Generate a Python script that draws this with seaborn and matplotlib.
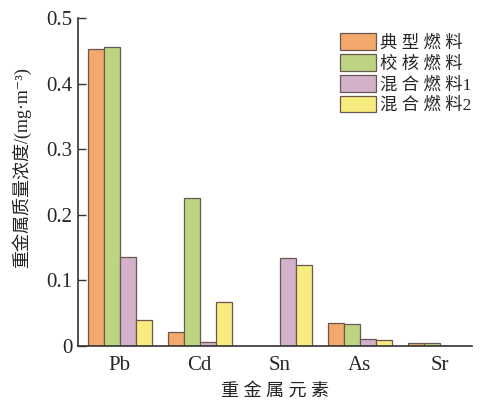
import numpy as np
import pandas as pd
import matplotlib
matplotlib.use("Agg")
import matplotlib.pyplot as plt
import seaborn as sns

elements = ["Pb", "Cd", "Sn", "As", "Sr"]
fuels = ["典 型 燃 料", "校 核 燃 料", "混 合 燃 料1", "混 合 燃 料2"]
typical = [0.453, 0.022, 0.0, 0.035, 0.005]
check = [0.456, 0.225, 0.0, 0.033, 0.004]
mixed1 = [0.135, 0.006, 0.134, 0.010, 0.0]
mixed2 = [0.040, 0.067, 0.123, 0.009, 0.0]
yticks = [0, 0.1, 0.2, 0.3, 0.4, 0.5]
ytick_labels = ["0", "0.1", "0.2", "0.3", "0.4", "0.5"]

colors = ["#f2a96b", "#bdd583", "#d4b1cb", "#f7ec7e"]

sns.set_style("ticks")
plt.rcParams["font.family"] = ["Liberation Serif", "Noto Sans CJK SC", "DejaVu Sans"]

rows = []
for fuel, vals in zip(fuels, [typical, check, mixed1, mixed2]):
    for el, v in zip(elements, vals):
        rows.append({"element": el, "fuel": fuel, "value": v})
df = pd.DataFrame(rows)

fig = plt.figure(figsize=(4.81, 4.07), dpi=100)
ax = fig.add_axes([0.162, 0.150, 0.819, 0.806])

sns.barplot(data=df, x="element", y="value", hue="fuel", hue_order=fuels,
            order=elements, palette=colors, width=0.8, saturation=1,
            edgecolor="#6a5850", linewidth=0.9, ax=ax)

ax.set_ylim(0, 0.5)
ax.set_xlim(-0.52, 4.4)
ax.set_yticks(yticks)
ax.set_yticklabels(ytick_labels)
ax.tick_params(axis="y", direction="in", length=6, width=1, labelsize=15, color="#333333", pad=4)
ax.tick_params(axis="x", length=0, labelsize=15, pad=7)
for s in ["top", "right"]:
    ax.spines[s].set_visible(False)
for s in ["left", "bottom"]:
    ax.spines[s].set_linewidth(1.2)
    ax.spines[s].set_color("#333333")

ax.set_xlabel("重 金 属 元 素", fontsize=13, labelpad=6, color="#222222")
ax.set_ylabel("重金属质量浓度/(mg·m⁻³)", fontsize=13, color="#222222")
ax.yaxis.set_label_coords(-0.12, 0.545)

ax.legend(loc="upper right", bbox_to_anchor=(1.025, 0.985), frameon=False, fontsize=12.5,
          handlelength=2.05, handleheight=1.1, handletextpad=0.23, labelspacing=0.15,
          borderaxespad=0.2)

fig.savefig("out.png", dpi=100)
